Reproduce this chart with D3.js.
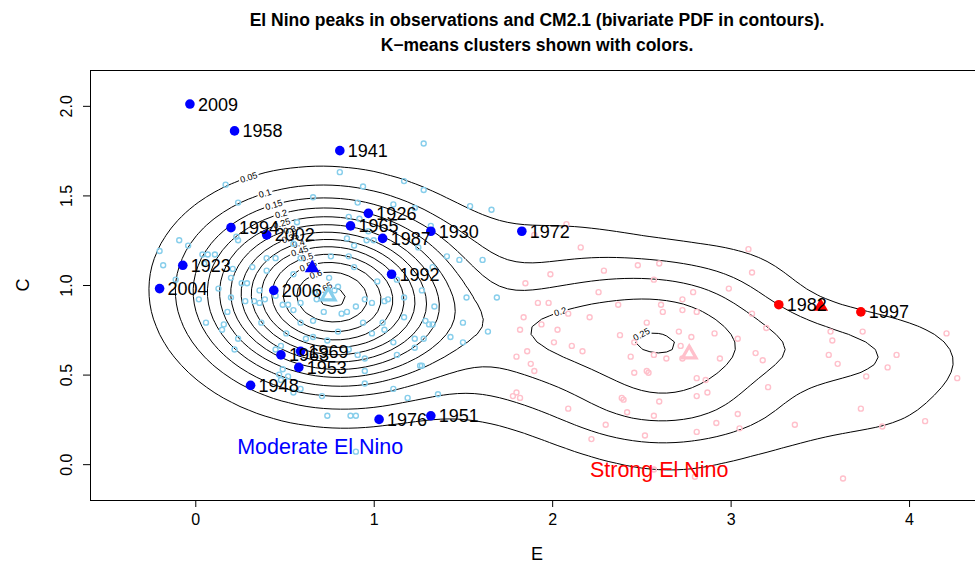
<!DOCTYPE html>
<html>
<head>
<meta charset="utf-8">
<script src="https://cdn.jsdelivr.net/npm/d3@7"></script>
<style>
  body { margin: 0; background: #fff; }
  svg { display: block; }
  text { font-family: "Liberation Sans", Arial, Helvetica, sans-serif; }
</style>
</head>
<body>
<svg id="chart" width="975" height="565"></svg>
<script>
// ---------------- data ----------------
// CM2.1 El Nino peaks, moderate cluster (E, C)
const cmModerateE = [1.28,0.17,0.81,0.94,1.17,1.28,0.66,0.24,0.91,1.11,1.23,1.54,1.66,0.86,0.92,0.57,0.97,1.32,1.00,0.96,
  0.85,0.89,0.23,0.24,0.55,-0.09,-0.04,-0.20,-0.18,0.04,0.07,0.11,0.05,0.21,0.32,0.40,0.45,0.59,0.76,0.86,
  0.89,0.75,-0.11,0.20,0.55,0.40,1.25,1.41,1.48,1.61,1.33,1.13,1.02,0.80,1.17,1.27,1.52,1.69,1.06,1.08,
  0.95,0.90,1.34,0.13,0.26,0.29,0.36,0.45,0.67,0.78,0.02,0.20,0.28,0.33,0.36,0.39,0.49,0.52,0.55,0.59,
  0.68,0.06,0.15,0.16,0.18,0.24,0.22,0.37,0.45,0.51,0.48,0.59,0.62,0.66,0.74,0.66,0.72,0.80,0.82,0.85,
  0.94,0.99,1.05,1.06,0.86,0.91,0.95,0.95,0.95,0.49,0.47,0.52,0.48,0.55,0.59,0.71,0.74,0.87,0.90,0.90,
  1.11,1.11,1.13,0.99,1.17,1.29,1.31,1.33,1.23,1.23,1.28,1.43,1.50,1.50,1.64,1.26,1.27,1.19,1.36];
const cmModerateC = [1.79,1.56,1.63,1.55,1.58,1.53,1.49,1.46,1.46,1.45,1.43,1.44,1.42,1.38,1.37,1.35,1.30,1.33,1.25,1.25,
  1.26,1.22,1.27,1.25,1.23,1.25,1.22,1.19,1.11,1.17,1.17,1.17,1.12,1.09,1.10,1.15,1.15,1.15,1.16,1.16,
  1.10,1.04,1.03,1.04,1.06,1.08,1.21,1.16,1.14,1.14,1.10,1.03,1.02,0.99,0.93,0.97,0.93,0.93,0.91,0.92,
  0.92,0.88,0.88,0.98,1.01,1.01,0.97,0.94,0.96,0.97,0.92,0.93,0.91,0.91,0.90,0.92,0.89,0.89,0.86,0.90,
  0.92,0.79,0.75,0.78,0.85,0.70,0.64,0.79,0.64,0.73,0.66,0.79,0.70,0.71,0.69,0.80,0.85,0.74,0.84,0.85,
  0.79,0.73,0.79,0.75,0.64,0.61,0.59,0.52,0.45,0.53,0.50,0.49,0.47,0.40,0.42,0.38,0.27,0.27,0.27,0.07,
  0.42,0.68,0.61,0.90,0.82,0.80,0.78,0.78,0.70,0.65,0.70,0.71,0.68,0.79,0.74,0.55,0.55,0.37,0.39];

// CM2.1 El Nino peaks, strong cluster (E, C)
const cmStrongE = [2.08,1.90,2.16,3.10,1.99,2.29,2.48,2.60,2.57,3.12,1.85,2.26,1.92,1.98,2.37,2.61,2.62,2.09,1.84,2.21,
  1.94,1.82,2.03,2.53,2.71,2.38,2.46,2.01,2.11,2.17,1.86,1.80,2.44,2.57,2.64,1.88,1.90,2.46,2.53,2.54,
  1.78,1.80,1.82,2.39,2.40,2.60,2.09,2.42,2.57,2.30,2.52,2.22,2.57,2.99,2.79,2.73,2.73,2.81,3.12,2.78,
  2.91,3.04,3.20,2.72,3.56,3.57,3.74,4.21,3.55,3.60,3.93,3.88,3.14,3.18,2.94,2.73,3.76,4.27,2.81,2.86,
  2.87,2.81,3.21,3.73,3.04,2.92,3.05,3.36,3.85,4.09,2.81,2.80,3.63];
const cmStrongC = [1.34,1.28,1.21,1.20,1.06,1.08,1.11,1.12,1.03,1.07,1.01,0.96,0.90,0.90,0.89,0.89,0.85,0.84,0.82,0.82,
  0.78,0.75,0.75,0.79,0.74,0.72,0.68,0.68,0.66,0.63,0.63,0.60,0.60,0.61,0.59,0.56,0.52,0.51,0.52,0.51,
  0.38,0.40,0.37,0.37,0.36,0.35,0.31,0.29,0.27,0.22,0.16,0.14,-0.03,0.98,0.96,0.92,0.86,0.85,0.84,0.71,
  0.73,0.70,0.76,0.66,0.74,0.69,0.74,0.73,0.61,0.56,0.61,0.54,0.62,0.58,0.59,0.59,0.49,0.48,0.48,0.47,
  0.40,0.38,0.43,0.31,0.28,0.23,0.20,0.22,0.21,0.24,0.18,-0.07,-0.08];

// Observed El Nino peaks
const obsYears   = ["2009","1958","1941","1926","1965","1987","1930","1972","1994","2002",
                    "1923","2004","2006","1992","1969","1963","1953","1948","1976","1951","1982","1997"];
const obsE       = [-0.03,0.22,0.81,0.97,0.87,1.05,1.32,1.83,0.20,0.40,
                    -0.07,-0.20,0.44,1.10,0.59,0.48,0.58,0.31,1.03,1.32,3.27,3.73];
const obsC       = [2.01,1.86,1.75,1.40,1.33,1.26,1.30,1.30,1.32,1.28,
                    1.11,0.98,0.97,1.06,0.63,0.61,0.54,0.44,0.25,0.27,0.89,0.85];
const obsCluster = ["m","m","m","m","m","m","m","m","m","m",
                    "m","m","m","m","m","m","m","m","m","m","s","s"];

// K-means cluster centres
const centreSource  = ["obs","cm","cm","obs"];
const centreCluster = ["m","m","s","s"];
const centreE = [0.655, 0.745, 2.768, 3.505];
const centreC = [1.095, 0.939, 0.615, 0.880];

// Contour levels of the bivariate PDF
const contourLevels = [0.05,0.1,0.15,0.2,0.25,0.3,0.35,0.4,0.45,0.5,0.55,0.6,0.65,0.7];

// Axis ticks and annotations
const xTicks = [0,1,2,3,4];
const yTicks = [0,0.5,1,1.5,2];
const clusterNames = ["Moderate El Nino","Strong El Nino"];
const clusterNameE = [0.70, 2.60];
const clusterNameC = [0.10, -0.03];

// ---------------- layout ----------------
const W = 975, H = 565;
const box = {left: 90, right: 984, top: 70, bottom: 500};
const xDom = [-0.59, 4.42], yDom = [-0.20, 2.20];
const x = d3.scaleLinear().domain(xDom).range([box.left, box.right]);
const y = d3.scaleLinear().domain(yDom).range([box.bottom, box.top]);

const colMod = "#0000FF", colStr = "#FF0000", colModCM = "#87CEEB", colStrCM = "#FFC0CB";

const svg = d3.select("#chart");
svg.append("rect").attr("width", W).attr("height", H).attr("fill", "#fff");
svg.append("defs").append("clipPath").attr("id", "plotClip")
  .append("rect").attr("x", box.left).attr("y", box.top)
  .attr("width", box.right - box.left).attr("height", box.bottom - box.top);

// ---------------- bivariate PDF ----------------
// moderate cluster: bivariate Gaussian; strong cluster: smoothed kernel density
const nAll = cmModerateE.length + cmStrongE.length;

function gaussianPdf(es, cs) {
  const n = es.length, w = n / nAll;
  const me = d3.mean(es), mc = d3.mean(cs);
  let see = 0, scc = 0, sec = 0;
  for (let k = 0; k < n; k++) {
    const a = es[k] - me, b = cs[k] - mc;
    see += a * a; scc += b * b; sec += a * b;
  }
  const ve = see / n, vc = scc / n, cov = sec / n;
  const det = ve * vc - cov * cov;
  const norm = w / (2 * Math.PI * Math.sqrt(det));
  return (e, c) => {
    const a = e - me, b = c - mc;
    return norm * Math.exp(-0.5 * (vc * a * a - 2 * cov * a * b + ve * b * b) / det);
  };
}
function bandwidthNrd(v) {
  const sorted = v.slice().sort(d3.ascending);
  const iqr = d3.quantileSorted(sorted, 0.75) - d3.quantileSorted(sorted, 0.25);
  return 4 * 1.06 * Math.min(d3.deviation(v), iqr / 1.34) * Math.pow(v.length, -0.2);
}
function kernelPdf(es, cs, adjE, adjC) {
  const n = es.length, w = n / nAll;
  const he = adjE * bandwidthNrd(es) / 4, hc = adjC * bandwidthNrd(cs) / 4;
  const norm = w / (2 * Math.PI * n * he * hc);
  return (e, c) => {
    let s = 0;
    for (let k = 0; k < n; k++) {
      const a = (e - es[k]) / he, b = (c - cs[k]) / hc;
      s += Math.exp(-0.5 * (a * a + b * b));
    }
    return norm * s;
  };
}
const pdfModerate = gaussianPdf(cmModerateE, cmModerateC);
const pdfStrong = kernelPdf(cmStrongE, cmStrongC, 1.3, 1.15);

const nGx = 110, nGy = 60;
const limE = [xDom[0] - 0.05, xDom[1] + 0.05], limC = [yDom[0] - 0.05, yDom[1] + 0.05];
const stepE = (limE[1] - limE[0]) / (nGx - 1), stepC = (limC[1] - limC[0]) / (nGy - 1);
const dens = new Array(nGx * nGy);
for (let j = 0; j < nGy; j++)
  for (let i = 0; i < nGx; i++) {
    const e = limE[0] + i * stepE, c = limC[0] + j * stepC;
    dens[j * nGx + i] = pdfModerate(e, c) + pdfStrong(e, c);
  }
const contourSets = d3.contours().size([nGx, nGy]).thresholds(contourLevels)(dens);
const toPx = p => [x(limE[0] + (p[0] - 0.5) * stepE), y(limC[0] + (p[1] - 0.5) * stepC)];

const gCont = svg.append("g").attr("clip-path", "url(#plotClip)");
const fmtLevel = v => String(+v.toFixed(2));

contourSets.forEach(cs => {
  cs.coordinates.forEach(poly => {
    poly.forEach(ring => {
      const pts = ring.map(toPx);
      const d = "M" + pts.map(p => p[0].toFixed(2) + "," + p[1].toFixed(2)).join("L") + "Z";
      const path = gCont.append("path").attr("d", d)
        .attr("fill", "none").attr("stroke", "#000").attr("stroke-width", 1);
      const node = path.node();
      const L = node.getTotalLength();
      if (L < 40) return;
      // label on the upper-left stretch of each line
      let best = -Infinity, bestS = 0;
      for (let s = 0; s < L; s += 1) {
        const p = node.getPointAtLength(s);
        const score = -(p.y + 0.3 * p.x);
        if (score > best) { best = score; bestS = s; }
      }
      const p = node.getPointAtLength(bestS);
      const p0 = node.getPointAtLength((bestS - 4 + L) % L);
      const p1 = node.getPointAtLength((bestS + 4) % L);
      let ang = Math.atan2(p1.y - p0.y, p1.x - p0.x) * 180 / Math.PI;
      if (ang > 90) ang -= 180;
      if (ang < -90) ang += 180;
      const t = gCont.append("text")
        .attr("transform", `translate(${p.x},${p.y}) rotate(${ang})`)
        .attr("text-anchor", "middle").attr("dy", "0.35em")
        .attr("font-size", 9).attr("fill", "#000")
        .text(fmtLevel(cs.value));
      const w = t.node().getComputedTextLength() + 3;
      path.attr("stroke-dasharray", `${L - w} ${w}`)
          .attr("stroke-dashoffset", ((L - bestS - w / 2) % L + L) % L);
    });
  });
});

// ---------------- CM2.1 points ----------------
const gPts = svg.append("g").attr("clip-path", "url(#plotClip)");
gPts.selectAll("circle.mod").data(d3.range(cmModerateE.length)).join("circle")
  .attr("class", "mod")
  .attr("cx", i => x(cmModerateE[i])).attr("cy", i => y(cmModerateC[i])).attr("r", 2.5)
  .attr("fill", "none").attr("stroke", colModCM).attr("stroke-width", 1.4);
gPts.selectAll("circle.str").data(d3.range(cmStrongE.length)).join("circle")
  .attr("class", "str")
  .attr("cx", i => x(cmStrongE[i])).attr("cy", i => y(cmStrongC[i])).attr("r", 2.5)
  .attr("fill", "none").attr("stroke", colStrCM).attr("stroke-width", 1.4);

// ---------------- cluster centres ----------------
const tri = d3.symbol().type(d3.symbolTriangle);
centreE.forEach((e, i) => {
  const obs = centreSource[i] === "obs";
  const col = centreCluster[i] === "m" ? (obs ? colMod : colModCM) : (obs ? colStr : colStrCM);
  svg.append("path")
    .attr("d", tri.size(obs ? 95 : 80)())
    .attr("transform", `translate(${x(e)},${y(centreC[i])})`)
    .attr("fill", obs ? col : "none")
    .attr("stroke", col).attr("stroke-width", obs ? 0 : 3.2);
});

// ---------------- observed peaks ----------------
const gObs = svg.append("g");
gObs.selectAll("circle").data(d3.range(obsE.length)).join("circle")
  .attr("cx", i => x(obsE[i])).attr("cy", i => y(obsC[i])).attr("r", 4.8)
  .attr("fill", i => obsCluster[i] === "m" ? colMod : colStr);
gObs.selectAll("text").data(d3.range(obsE.length)).join("text")
  .attr("x", i => x(obsE[i]) + 8).attr("y", i => y(obsC[i])).attr("dy", "0.36em")
  .attr("font-size", 18).attr("fill", "#000")
  .text(i => obsYears[i]);

// cluster names
svg.selectAll("text.cname").data(d3.range(clusterNames.length)).join("text")
  .attr("class", "cname")
  .attr("x", i => x(clusterNameE[i])).attr("y", i => y(clusterNameC[i])).attr("dy", "0.36em")
  .attr("text-anchor", "middle").attr("font-size", 21.5)
  .attr("fill", (d, i) => i === 0 ? colMod : colStr)
  .text(i => clusterNames[i]);

// ---------------- axes ----------------
const xAxis = svg.append("g").attr("transform", `translate(0,${box.bottom})`)
  .call(d3.axisBottom(x).tickValues(xTicks).tickSize(7).tickPadding(7).tickFormat(d3.format("d")));
xAxis.select(".domain").remove();
xAxis.selectAll("text").attr("font-size", 16).attr("font-family", null).attr("fill", "#000");

const yAxis = svg.append("g").attr("transform", `translate(${box.left},0)`)
  .call(d3.axisLeft(y).tickValues(yTicks).tickSize(7).tickFormat(d3.format(".1f")));
yAxis.select(".domain").remove();
yAxis.selectAll("text")
  .attr("font-size", 16).attr("font-family", null).attr("fill", "#000")
  .attr("x", null).attr("dy", null).attr("text-anchor", "middle")
  .attr("transform", "translate(-18,0) rotate(-90)");

// plot box
svg.append("rect").attr("x", box.left + 0.5).attr("y", box.top + 0.5)
  .attr("width", box.right - box.left).attr("height", box.bottom - box.top)
  .attr("fill", "none").attr("stroke", "#000").attr("stroke-width", 1);

// axis titles
svg.append("text").attr("x", (box.left + box.right) / 2).attr("y", 560)
  .attr("text-anchor", "middle").attr("font-size", 18).text("E");
svg.append("text").attr("transform", `translate(29,${(box.top + box.bottom) / 2}) rotate(-90)`)
  .attr("text-anchor", "middle").attr("font-size", 18).text("C");

// title
const title = svg.append("g").attr("font-weight", "bold").attr("font-size", 17.5).attr("text-anchor", "middle");
title.append("text").attr("x", (box.left + box.right) / 2).attr("y", 26)
  .text("El Nino peaks in observations and CM2.1 (bivariate PDF in contours).");
title.append("text").attr("x", (box.left + box.right) / 2).attr("y", 51)
  .text("K\u2212means clusters shown with colors.");
</script>
</body>
</html>
